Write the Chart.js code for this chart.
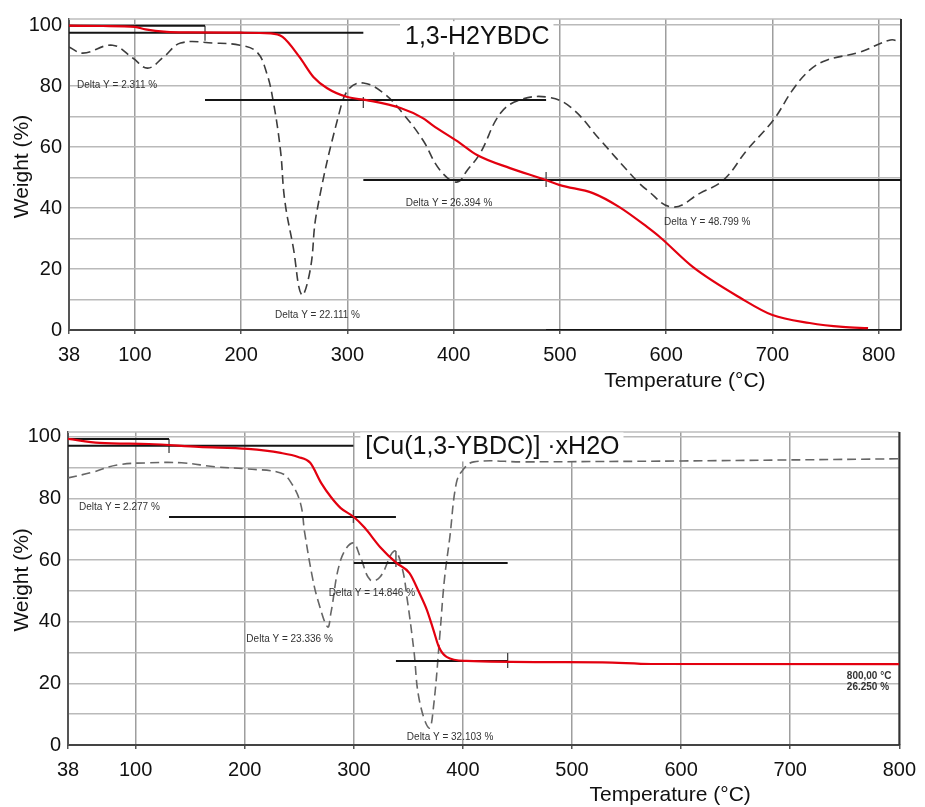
<!DOCTYPE html>
<html>
<head>
<meta charset="utf-8">
<script src="https://cdn.jsdelivr.net/npm/chart.js@4.4.0/dist/chart.umd.min.js"></script>
<style>
  html, body { margin: 0; padding: 0; background: #fff; }
  canvas { position: absolute; left: 0; }
  #c1 { top: 0; }
  #c2 { top: 400px; }
</style>
</head>
<body>
<canvas id="c1" width="925" height="400"></canvas>
<canvas id="c2" width="925" height="407"></canvas>
<script>
// ---------- data ----------
const xTickVals = [38, 100, 200, 300, 400, 500, 600, 700, 800];
const yTickVals = [0, 10, 20, 30, 40, 50, 60, 70, 80, 90, 100];

// Chart A : 1,3-H2YBDC
const titleA = '1,3-H2YBDC';
const tgaTempA = [38, 70, 100, 110, 130, 150, 200, 228, 239, 255, 268, 281, 300, 318, 350, 371, 380, 406, 422, 453, 487, 500, 531, 556, 582, 594, 625, 670, 700, 735, 766, 790];
const tgaWeightA = [99.8, 99.7, 99.4, 98.6, 97.8, 97.6, 97.5, 97.3, 96.1, 89.5, 83.0, 79.3, 76.4, 75.4, 72.8, 69.5, 67.2, 61.3, 57.4, 53.1, 49.2, 47.5, 44.9, 40.3, 33.8, 30.5, 20.7, 10.5, 4.9, 2.3, 1.0, 0.6];
const dtgTempA = [38, 51, 79, 98, 112, 127, 143, 174, 199, 215, 224, 230, 237, 241, 249, 257, 265, 271, 293, 302, 315, 334, 352, 371, 387, 403, 413, 425, 444, 462, 488, 510, 538, 569, 582, 606, 632, 654, 676, 701, 719, 735, 751, 782, 811, 821];
const dtgValA = [92.8, 90.8, 93.4, 89.2, 85.9, 89.5, 94.1, 94.1, 93.4, 91.1, 84.3, 75.4, 59.0, 42.6, 27.2, 11.5, 19.7, 38.4, 72.1, 79.3, 81.0, 77.7, 71.1, 62.3, 52.5, 48.5, 52.5, 58.0, 71.1, 75.4, 76.4, 73.1, 62.3, 50.2, 45.9, 40.3, 44.9, 49.2, 59.0, 68.9, 78.7, 85.2, 88.5, 91.1, 95.1, 94.4];
const stepStartA = [38, 38, 166, 315, 487];
const stepEndA = [166, 315, 487, 821, 821];
const stepLevelA = [99.8, 97.5, 75.4, 49.2, 0];
const markTempA = [166, 315, 487];
const markLowA = [94.9, 72.8, 46.9];
const markHighA = [99.8, 76.4, 51.8];
const noteTextA = ['Delta Y = 2.311 %', 'Delta Y = 22.111 %', 'Delta Y = 26.394 %', 'Delta Y = 48.799 %'];

// Chart B : [Cu(1,3-YBDC)] ·xH2O
const titleB = '[Cu(1,3-YBDC)] \u00b7xH2O';
const tgaTempB = [38, 67, 112, 158, 203, 233, 249, 260, 270, 279, 288, 300, 310, 324, 339, 351, 360, 367, 373, 378, 385, 403, 485, 528, 573, 800];
const tgaWeightB = [99.35, 98.05, 97.7, 96.75, 96.1, 94.8, 93.5, 91.6, 85.1, 80.5, 76.9, 74.0, 70.5, 64.3, 59.1, 55.8, 49.4, 43.8, 37.3, 31.8, 28.6, 27.3, 26.9, 26.85, 26.3, 26.25];
const dtgTempB = [38, 61, 83, 113, 142, 173, 203, 233, 242, 251, 255, 262, 267, 276, 279, 288, 299, 306, 315, 324, 337, 344, 349, 355, 360, 369, 373, 379, 383, 388, 394, 400, 410, 455, 600, 800];
const dtgValB = [86.7, 88.6, 90.9, 91.6, 91.6, 90.3, 89.6, 88.3, 85.4, 78.6, 68.8, 54.5, 47.1, 38.3, 42.9, 60.1, 65.6, 61.0, 53.6, 54.5, 63.0, 57.8, 47.1, 30.8, 14.6, 5.5, 12.3, 36.4, 53.6, 67.5, 85.1, 89.3, 91.9, 91.9, 92.2, 92.9];
const stepStartB = [38, 38, 130.6, 300, 338.6];
const stepEndB = [130.6, 299.6, 338.6, 441, 441];
const stepLevelB = [99.35, 97.1, 74.0, 59.1, 27.3];
const markTempB = [130.6, 299.6, 338.6, 441];
const markLowB = [94.8, 72.1, 57.8, 25.0];
const markHighB = [99.35, 76.3, 63.0, 29.9];
const noteTextB = ['Delta Y = 2.277 %', 'Delta Y = 14.846 %', 'Delta Y = 23.336 %', 'Delta Y = 32.103 %', '800,00 \u00b0C', '26.250 %'];

const xTitle = 'Temperature (\u00b0C)';
const yTitle = 'Weight (%)';

// ---------- rendering ----------
const FONT = '"Liberation Sans", Arial, Helvetica, sans-serif';

function series(xs, ys) { return xs.map((x, i) => ({ x: x, y: ys[i] })); }

function decorPlugin(d) {
  return {
    id: 'decor',
    beforeDatasetsDraw(chart) {
      const { ctx, chartArea: a, scales: { x, y } } = chart;
      ctx.save();
      ctx.strokeStyle = '#bcbcbc'; ctx.lineWidth = 1.5;
      ctx.beginPath(); ctx.moveTo(a.left, a.top); ctx.lineTo(a.right, a.top); ctx.stroke();
      ctx.strokeStyle = '#333'; ctx.lineWidth = 2;
      ctx.beginPath(); ctx.moveTo(a.right, a.top); ctx.lineTo(a.right, a.bottom); ctx.stroke();
      // title in white box
      ctx.font = '25px ' + FONT;
      const tx = x.getPixelForValue(d.titlePos[0]);
      const ty = y.getPixelForValue(d.titlePos[1]);
      const w = ctx.measureText(d.title).width;
      ctx.fillStyle = '#fff';
      ctx.fillRect(tx - 5, ty - d.boxHalf, w + 9, d.boxHalf * 2);
      ctx.fillStyle = '#111'; ctx.textAlign = 'left'; ctx.textBaseline = 'middle';
      ctx.fillText(d.title, tx, ty);
      ctx.restore();
    },
    afterDatasetsDraw(chart) {
      const { ctx, chartArea: a, scales: { x, y } } = chart;
      ctx.save();
      ctx.textAlign = 'left'; ctx.textBaseline = 'middle';
      d.notes.forEach((n, i) => {
        ctx.font = (n[2] ? 'bold ' : '') + '10px ' + FONT;
        ctx.fillStyle = '#333';
        ctx.fillText(d.noteText[i], x.getPixelForValue(n[0]), y.getPixelForValue(n[1]));
      });
      // axis titles
      ctx.fillStyle = '#111';
      ctx.font = '21px ' + FONT;
      ctx.textAlign = 'center';
      ctx.fillText(xTitle, x.getPixelForValue(d.xTitleAt), a.bottom + d.xTitleDy);
      ctx.translate(a.left - d.yTitleDx, y.getPixelForValue(53.6));
      ctx.rotate(-Math.PI / 2);
      ctx.fillText(yTitle, 0, 0);
      ctx.restore();
    }
  };
}

function makeChart(id, d) {
  const datasets = [];
  datasets.push({ data: series(d.tgaT, d.tgaW), borderColor: '#e3000f', borderWidth: 2.2, order: 0, cubicInterpolationMode: 'monotone' });
  d.stepStart.forEach((s, i) => datasets.push({
    data: [{ x: s, y: d.stepLevel[i] }, { x: d.stepEnd[i], y: d.stepLevel[i] }],
    borderColor: '#151515', borderWidth: 2, order: 1 }));
  d.markT.forEach((t, i) => datasets.push({
    data: [{ x: t, y: d.markLow[i] }, { x: t, y: d.markHigh[i] }],
    borderColor: '#444', borderWidth: 1.3, order: 1 }));
  datasets.push({ data: series(d.dtgT, d.dtgV), borderColor: d.dashColor, borderWidth: 1.6, borderDash: [9, 5], order: 2, tension: 0.4 });

  return new Chart(document.getElementById(id), {
    type: 'line',
    data: { datasets: datasets },
    plugins: [decorPlugin(d)],
    options: {
      responsive: false, animation: false, devicePixelRatio: 1,
      layout: { padding: d.pad },
      plugins: { legend: { display: false }, tooltip: { enabled: false } },
      elements: { point: { radius: 0 }, line: { fill: false } },
      scales: {
        x: {
          type: 'linear', min: 38, max: d.xMax,
          afterBuildTicks: s => { s.ticks = xTickVals.map(v => ({ value: v })); },
          afterFit: s => { s.height = d.xH; },
          ticks: { color: '#111', font: { family: FONT, size: 20 }, padding: 9, maxRotation: 0, autoSkip: false, callback: v => String(v) },
          grid: { color: '#9e9e9e', lineWidth: 1.5, drawTicks: true, tickLength: 4, tickColor: '#555' },
          border: { color: '#444', width: 2 }
        },
        y: {
          type: 'linear', min: 0, max: d.yMax,
          afterBuildTicks: s => { s.ticks = yTickVals.map(v => ({ value: v })); },
          afterFit: s => { s.width = d.yW; },
          ticks: { color: '#111', font: { family: FONT, size: 20 }, padding: 7, autoSkip: false, callback: v => (v % 20 === 0 ? String(v) : '') },
          grid: { color: '#bababa', lineWidth: 1.5, drawTicks: false },
          border: { color: '#555', width: 2 }
        }
      }
    }
  });
}

makeChart('c1', {
  tgaT: tgaTempA, tgaW: tgaWeightA, dtgT: dtgTempA, dtgV: dtgValA,
  stepStart: stepStartA, stepEnd: stepEndA, stepLevel: stepLevelA,
  markT: markTempA, markLow: markLowA, markHigh: markHighA,
  dashColor: '#3c3c3c', xMax: 821, yMax: 102, xH: 70, yW: 69,
  pad: { left: 0, right: 24, top: 19, bottom: 0 },
  title: titleA, titlePos: [354.2, 96.2], boxHalf: 15.5,
  noteText: noteTextA,
  notes: [[45.5, 80.3], [231.9, 4.9], [355, 41.7], [598, 35.3]],
  xTitleAt: 617.7, xTitleDy: 51, yTitleDx: 46.3
});

makeChart('c2', {
  tgaT: tgaTempB, tgaW: tgaWeightB, dtgT: dtgTempB, dtgV: dtgValB,
  stepStart: stepStartB, stepEnd: stepEndB, stepLevel: stepLevelB,
  markT: markTempB, markLow: markLowB, markHigh: markHighB,
  dashColor: '#666666', xMax: 800, yMax: 101.6, xH: 62, yW: 68,
  pad: { left: 0, right: 18, top: 32, bottom: 0 },
  title: titleB, titlePos: [310.5, 96.75], boxHalf: 14.5,
  noteText: noteTextB,
  notes: [[48, 77.2], [276.9, 49.25], [201.5, 34.4], [348.6, 2.4], [751.9, 22.4, true], [751.9, 18.6, true]],
  xTitleAt: 590, xTitleDy: 50, yTitleDx: 45.3
});
</script>
</body>
</html>
